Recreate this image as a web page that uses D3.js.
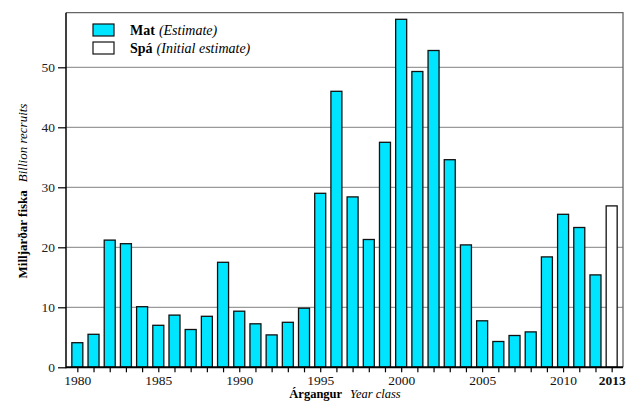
<!DOCTYPE html>
<html lang="is">
<head>
<meta charset="UTF-8">
<title>Nýliðun</title>
<script src="https://d3js.org/d3.v7.min.js"></script>
<style>
  body { margin: 0; background: #fff; }
</style>
</head>
<body>
<div id="chart"></div>
<script>
    // árgangar og milljarðar fiska
    let years = d3.range(1980, 2013),
        estimate = [4.1, 5.5, 21.2, 20.6, 10.1, 7.0, 8.7, 6.3, 8.5, 17.5,
                    9.35, 7.25, 5.4, 7.5, 9.85, 29.0, 46.0, 28.4, 21.3, 37.5,
                    58.0, 49.3, 52.8, 34.6, 20.4, 7.75, 4.3, 5.3, 5.9, 18.4,
                    25.5, 23.3, 15.4],
        initYear = 2013, initial = 26.9,
        yTicks = [0, 10, 20, 30, 40, 50],
        xLabels = [1980, 1985, 1990, 1995, 2000, 2005, 2010, 2013];

    let W = 628, H = 401,
        mL = 66, mR = 623, mT = 12.7, mB = 367.3,
        font = "'Liberation Serif', Tinos, 'Nimbus Roman', FreeSerif, 'Noto Serif', 'DejaVu Serif', serif";

    let svg = d3.select('#chart').append('svg').attr('width', W).attr('height', H)
        .style('font-family', font);

    let x = d3.scaleLinear().domain([1979.3, 2013.7]).range([mL, mR]),
        y = d3.scaleLinear().domain([0, 59.1]).range([mB, mT]),
        bw = 11;

    //grindarlínur
    svg.append('g').selectAll('line').data(yTicks.filter(d => d > 0)).enter().append('line')
        .attr('x1', mL).attr('x2', mR)
        .attr('y1', d => y(d)).attr('y2', d => y(d))
        .style('stroke', '#9a9a9a').style('stroke-width', 1.2);

    //rammi efst og hægra megin
    svg.append('path')
        .attr('d', `M${mL},${mT}H${mR}V${mB}`)
        .style('fill', 'none').style('stroke', '#666').style('stroke-width', 1.3);

    //súlur
    let data = years.map((d, i) => ({'yr': d, 'v': estimate[i]}));
    svg.append('g').selectAll('rect').data(data).enter().append('rect')
        .attr('x', d => x(d.yr) - bw / 2).attr('width', bw)
        .attr('y', d => y(d.v)).attr('height', d => y(0) - y(d.v))
        .style('fill', '#00e5ff').style('stroke', '#111').style('stroke-width', 1.3);
    svg.append('rect')
        .attr('x', x(initYear) - bw / 2).attr('width', bw)
        .attr('y', y(initial)).attr('height', y(0) - y(initial))
        .style('fill', '#fff').style('stroke', '#111').style('stroke-width', 1.3);

    //ásar
    let xAxis = d3.axisBottom(x).tickValues(d3.range(1980, 2014)).tickSize(5).tickPadding(3)
        .tickFormat(d => xLabels.includes(d) ? d : '');
    let gx = svg.append('g').attr('transform', `translate(0,${mB})`).call(xAxis);
    gx.attr('font-family', null).attr('font-size', null);
    gx.select('.domain').remove();
    gx.append('line').attr('x1', mL).attr('x2', mR).style('stroke', '#000').style('stroke-width', 2);
    gx.selectAll('.tick line').style('stroke', '#000').style('stroke-width', 1.2);
    gx.selectAll('.tick text').style('font-size', '13.5px').style('fill', '#111')
        .style('font-weight', d => d == 2013 ? 'bold' : 'normal');

    let yAxis = d3.axisLeft(y).tickValues(yTicks).tickSize(8).tickPadding(3);
    let gy = svg.append('g').attr('transform', `translate(${mL},0)`).call(yAxis);
    gy.attr('font-family', null).attr('font-size', null);
    gy.select('.domain').remove();
    gy.append('line').attr('y1', mT).attr('y2', mB + 1).style('stroke', '#000').style('stroke-width', 1.5);
    gy.selectAll('.tick line').style('stroke', '#000').style('stroke-width', 1.2);
    gy.selectAll('.tick text').style('font-size', '13.5px').style('fill', '#222');

    //ásaheiti
    let yl = svg.append('text').attr('transform', 'translate(27,191) rotate(-90)')
        .attr('text-anchor', 'middle').style('font-size', '13px');
    yl.append('tspan').style('font-weight', 'bold').text('Milljarðar fiska');
    yl.append('tspan').attr('dx', 8).style('font-style', 'italic').text('Billion recruits');

    let xl = svg.append('text').attr('x', 345).attr('y', 397.5)
        .attr('text-anchor', 'middle').style('font-size', '12.5px');
    xl.append('tspan').style('font-weight', 'bold').text('Árgangur');
    xl.append('tspan').attr('dx', 8).style('font-style', 'italic').text('Year class');

    //skýringar
    let legend = [
        {'b': 'Mat', 'i': '(Estimate)', 'fill': '#00e5ff'},
        {'b': 'Spá', 'i': '(Initial estimate)', 'fill': '#fff'}
    ];
    let lg = svg.append('g').selectAll('g').data(legend).enter().append('g')
        .attr('transform', (d, i) => `translate(93,${24 + i * 18})`);
    lg.append('rect').attr('width', 21).attr('height', 12)
        .style('fill', d => d.fill).style('stroke', '#111').style('stroke-width', 1.2);
    let lt = lg.append('text').attr('x', 37).attr('y', 10.5).style('font-size', '14px');
    lt.append('tspan').style('font-weight', 'bold').text(d => d.b);
    lt.append('tspan').attr('dx', 4).style('font-style', 'italic').text(d => d.i);
</script>
</body>
</html>
